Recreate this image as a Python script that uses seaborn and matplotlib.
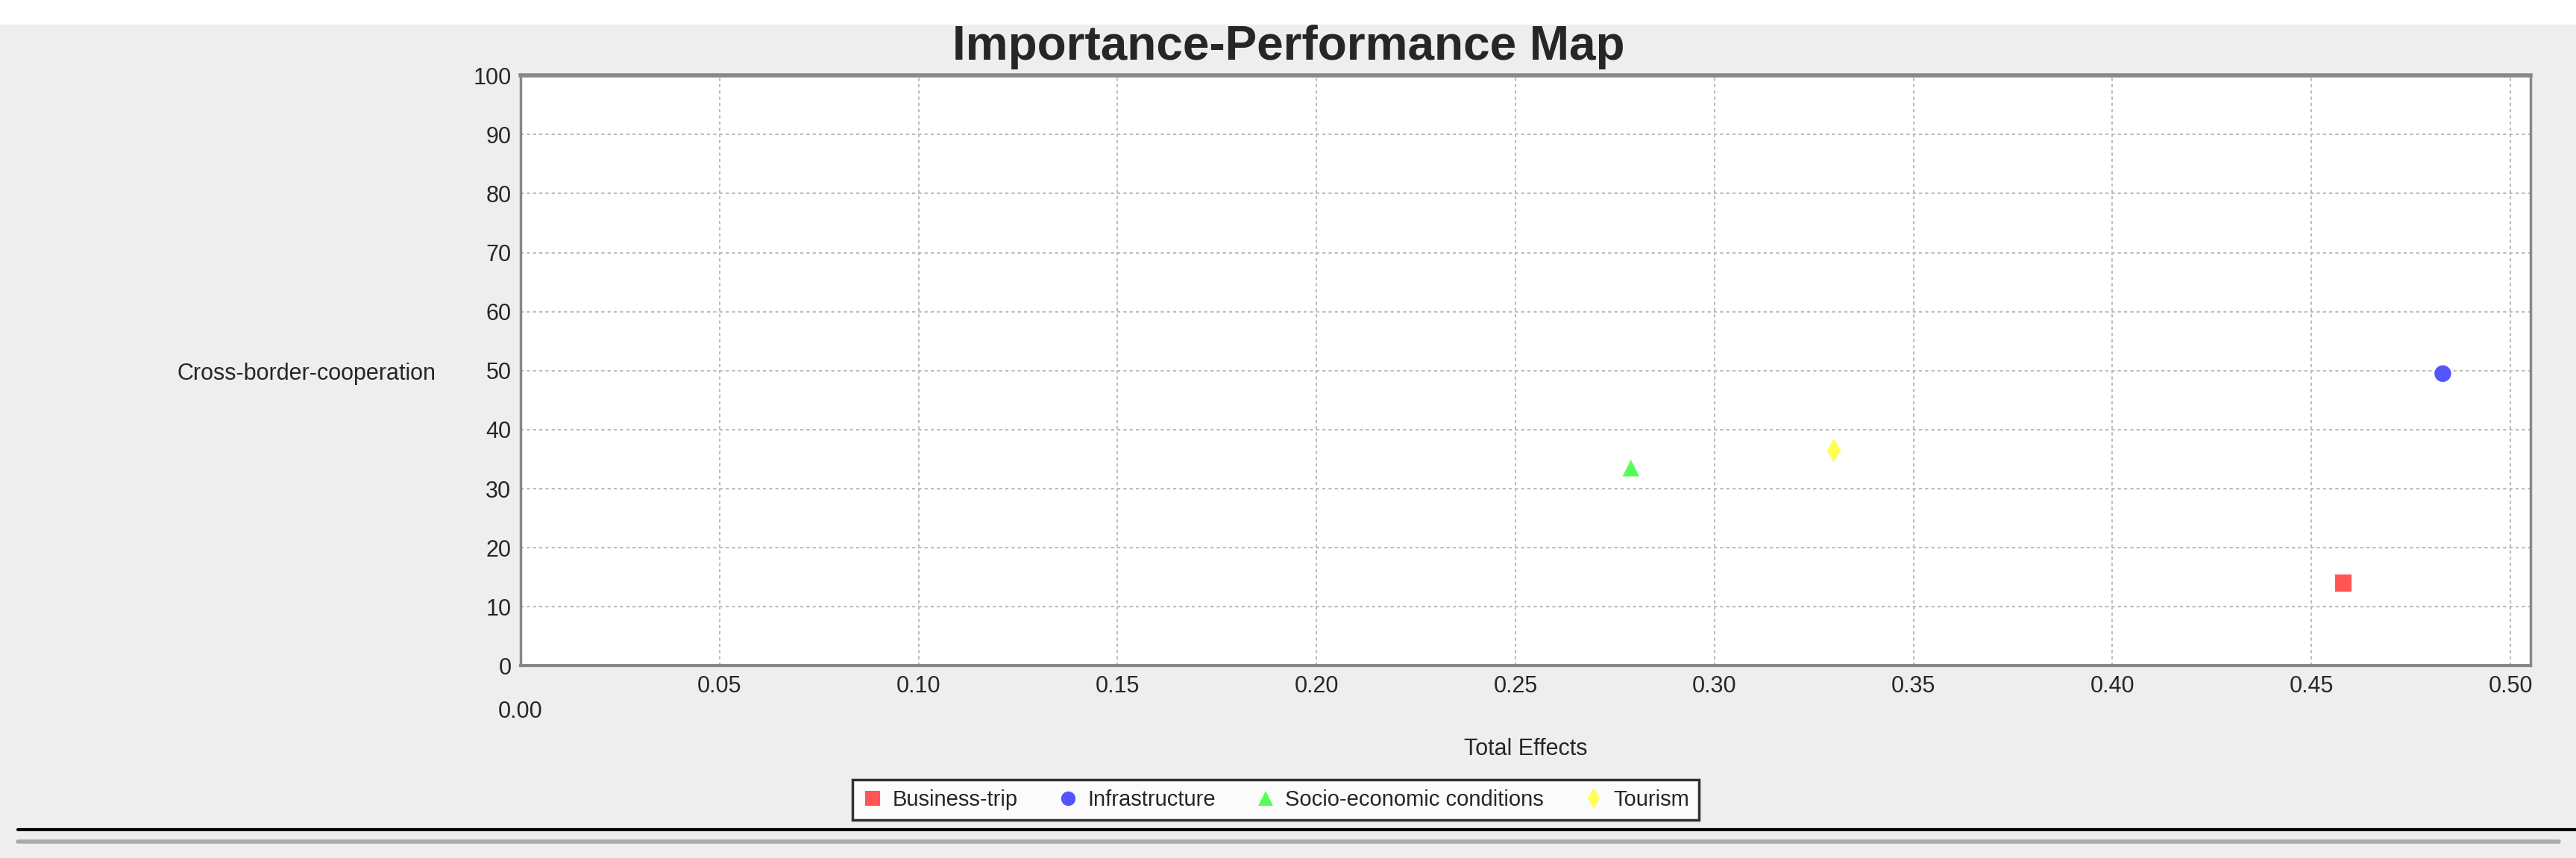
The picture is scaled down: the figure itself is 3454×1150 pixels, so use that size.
import matplotlib
matplotlib.use("Agg")
import matplotlib.pyplot as plt
import pandas as pd
import seaborn as sns
from matplotlib.lines import Line2D

constructs = ["Business-trip", "Infrastructure", "Socio-economic conditions", "Tourism"]
total_effects = [0.458, 0.483, 0.279, 0.330]
performance = [14.0, 49.5, 33.5, 36.5]
colors = ["#ff5555", "#5555ff", "#55ff55", "#ffff55"]
markers = ["s", "o", "^", "d"]
x_ticks = [0.00, 0.05, 0.10, 0.15, 0.20, 0.25, 0.30, 0.35, 0.40, 0.45, 0.50]
y_ticks = [0, 10, 20, 30, 40, 50, 60, 70, 80, 90, 100]

df = pd.DataFrame({"construct": constructs, "te": total_effects, "perf": performance})

sns.set_theme(style="white")
plt.rcParams["font.family"] = ["Liberation Sans", "DejaVu Sans"]

fig = plt.figure(figsize=(34.55, 11.5), dpi=100, facecolor="#eeeeee")
ax = fig.add_axes([0.202, 0.224, 0.78, 0.688])
ax.set_facecolor("white")

sns.scatterplot(data=df, x="te", y="perf", hue="construct", style="construct",
                palette=dict(zip(constructs, colors)),
                markers=dict(zip(constructs, markers)),
                s=260, edgecolor="none", legend=False, ax=ax)

ax.set_xlim(0, 0.505)
ax.set_ylim(0, 100)
ax.set_xticks(x_ticks)
ax.set_xticklabels(["\n0.00"] + [f"{v:.2f}" for v in x_ticks[1:]], fontsize=22)
ax.set_yticks(y_ticks)
ax.set_yticklabels([str(v) for v in y_ticks], fontsize=22)
ax.tick_params(axis="both", length=5, color="#888888", pad=4)
ax.grid(True, color="#bbbbbb", linestyle=(0, (2, 2)), linewidth=1.5)
for side, sp in ax.spines.items():
    sp.set_color("#888888")
    sp.set_linewidth(2.5)
ax.spines["top"].set_linewidth(4)
ax.spines["bottom"].set_linewidth(3)

ax.set_xlabel("Total Effects", fontsize=22, labelpad=14)
ax.set_ylabel("Cross-border-cooperation", fontsize=22, rotation=0, ha="right", va="center")
ax.yaxis.set_label_coords(-0.042, 0.495)
fig.text(0.5, 0.945, "Importance-Performance Map", ha="center", va="center",
         fontsize=46, fontweight="bold")

handles = [Line2D([], [], linestyle="none", marker=m, color=c, markersize=14, markeredgewidth=0)
           for m, c in zip(markers, colors)]
leg = fig.legend(handles, constructs, loc="center", bbox_to_anchor=(0.495, 0.068),
                 ncol=4, fontsize=21, frameon=True, fancybox=False, edgecolor="black",
                 facecolor="white", handletextpad=0.4, columnspacing=1.8, borderpad=0.45,
                 handlelength=1.0)
leg.get_frame().set_linewidth(2.5)

fig.add_artist(Line2D([0.007, 1.0], [0.033, 0.033], color="black", linewidth=3))
fig.add_artist(Line2D([0.007, 0.993], [0.019, 0.019], color="#aaaaaa", linewidth=4))
fig.add_artist(Line2D([0.0, 1.0], [0.99, 0.99], color="white", linewidth=30))

fig.savefig("out.png", dpi=100, facecolor=fig.get_facecolor())
